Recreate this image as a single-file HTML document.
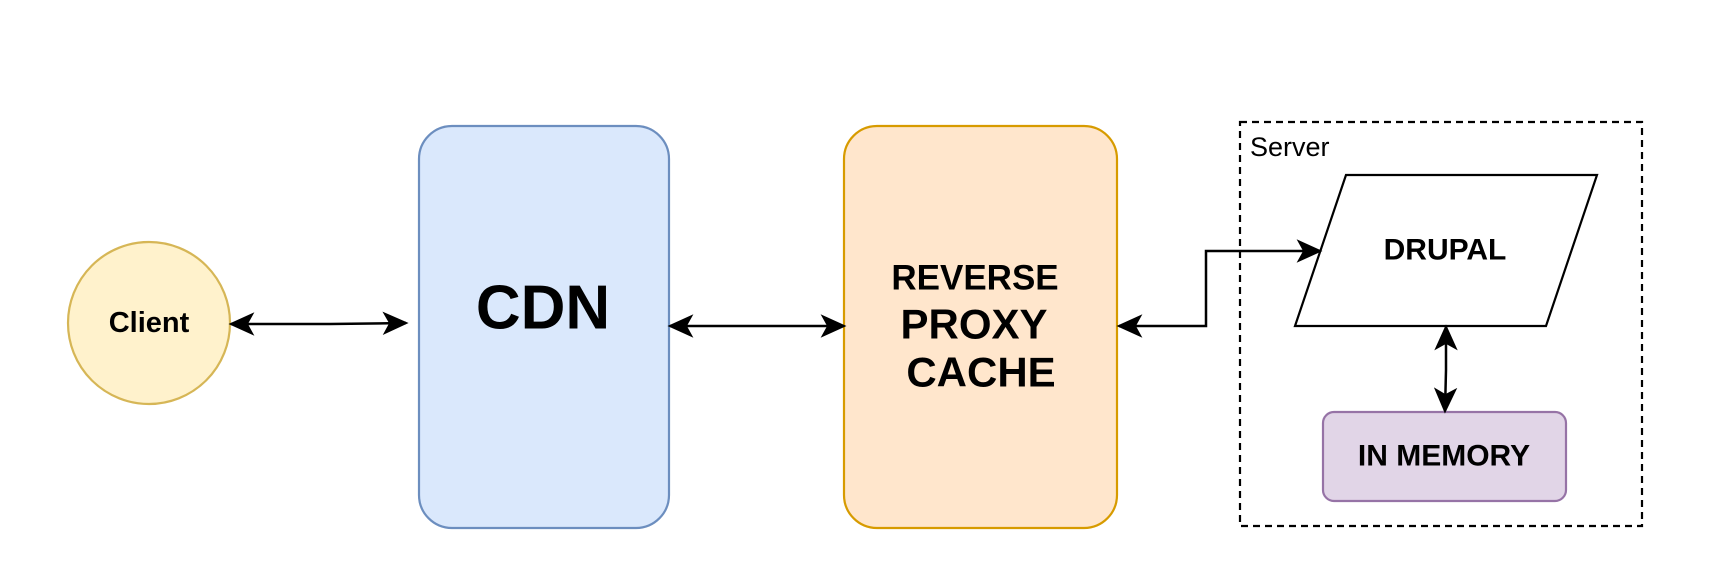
<!DOCTYPE html>
<html><head><meta charset="utf-8"><style>
html,body{margin:0;padding:0;background:#fff;}
svg{display:block;}
text{font-family:"Liberation Sans",Arial,sans-serif;font-weight:bold;fill:#000;text-anchor:middle;dominant-baseline:central;}
</style></head><body>
<svg width="1720" height="567" viewBox="0 0 1720 567" xmlns="http://www.w3.org/2000/svg">
<defs>
<marker id="a" viewBox="0 0 20 20" refX="18" refY="10" markerWidth="26" markerHeight="26" markerUnits="userSpaceOnUse" orient="auto-start-reverse">
<path d="M0,1 L20,10 L0,19 L5,10 Z" fill="#000"/>
</marker>
</defs>
<circle cx="149" cy="323" r="81" fill="#fff2cc" stroke="#d6b656" stroke-width="2.2"/>
<text x="149" y="323" font-size="29">Client</text>
<rect x="419" y="126" width="250" height="402" rx="33" fill="#dae8fc" stroke="#6c8ebf" stroke-width="2.2"/>
<text x="543" y="308" font-size="62">CDN</text>
<rect x="844" y="126" width="273" height="402" rx="33" fill="#ffe6cc" stroke="#d79b00" stroke-width="2.2"/>
<text x="975" y="278" font-size="35">REVERSE</text>
<text x="974" y="324" font-size="42">PROXY</text>
<text x="981" y="372" font-size="42">CACHE</text>
<rect x="1240" y="122" width="402" height="404" fill="none" stroke="#000" stroke-width="2.2" stroke-dasharray="7,5"/>
<text x="1250" y="147" font-size="27" style="font-weight:normal;text-anchor:start">Server</text>
<polygon points="1346,175 1597,175 1546,326 1295,326" fill="#fff" stroke="#000" stroke-width="2.2"/>
<text x="1445" y="250" font-size="30">DRUPAL</text>
<rect x="1323" y="412" width="243" height="89" rx="11" fill="#e1d5e7" stroke="#9673a6" stroke-width="2.2"/>
<text x="1444" y="456" font-size="30">IN MEMORY</text>
<g stroke="#000" stroke-width="2.5" fill="none" marker-start="url(#a)" marker-end="url(#a)">
<path d="M231,324 L330,324 L406,323"/>
<path d="M670,326 L844,326"/>
<path d="M1119,326 L1206,326 L1206,251 L1320,251"/>
<path d="M1446,327 L1446,370 L1445,411"/>
</g>
</svg>
</body></html>
